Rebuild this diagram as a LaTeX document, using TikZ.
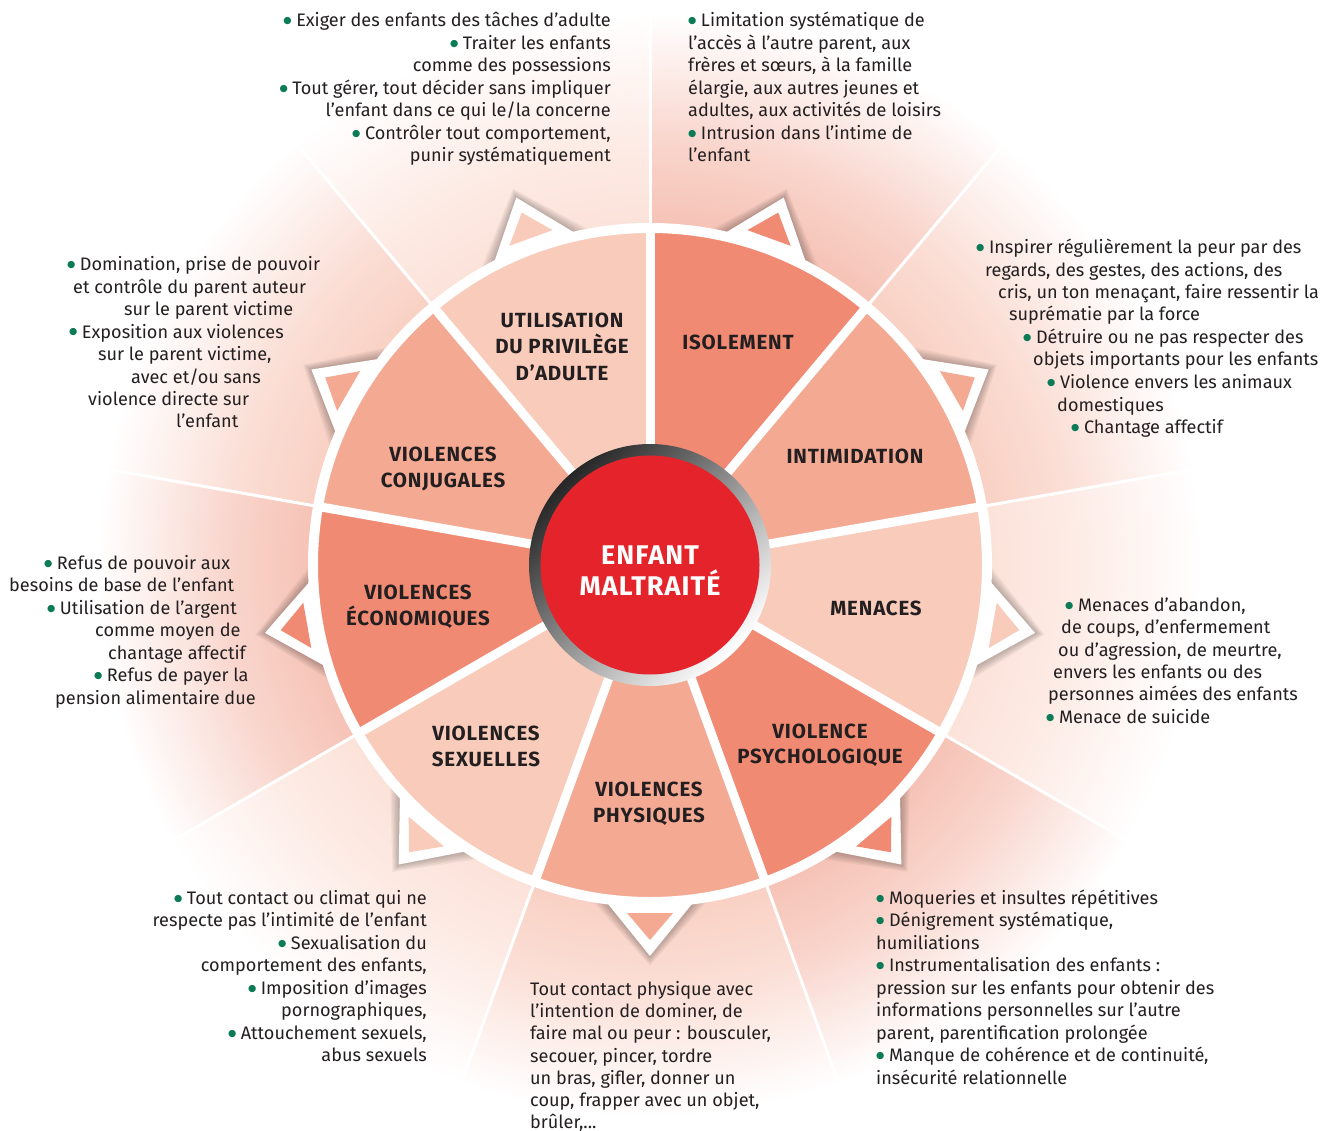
\documentclass[tikz,border=0pt]{standalone}
\usepackage{fontspec}
\setmainfont{Fira Sans}
\newfontfamily\dvs{DejaVu Sans}
\definecolor{segL}{HTML}{F9CBBA}
\definecolor{segM}{HTML}{F4A993}
\definecolor{segD}{HTML}{F08A73}
\definecolor{bgL}{HTML}{FCE2D9}
\definecolor{bgM}{HTML}{F9D0C3}
\definecolor{bgD}{HTML}{F6C2B5}
\definecolor{redc}{HTML}{E4232B}
\definecolor{bulc}{HTML}{0B7A57}
\definecolor{txtc}{HTML}{231F20}
\pgfdeclareradialshading{fadeL}{\pgfpoint{0bp}{0bp}}{color(0bp)=(bgL); color(14bp)=(bgL); color(17.5bp)=(bgL!70!white); color(23bp)=(white); color(50bp)=(white)}
\pgfdeclareradialshading{fadeM}{\pgfpoint{0bp}{0bp}}{color(0bp)=(bgM); color(14bp)=(bgM); color(17.5bp)=(bgM!70!white); color(23bp)=(white); color(50bp)=(white)}
\pgfdeclareradialshading{fadeD}{\pgfpoint{0bp}{0bp}}{color(0bp)=(bgD); color(14bp)=(bgD); color(17.5bp)=(bgD!70!white); color(23bp)=(white); color(50bp)=(white)}
\newcommand\gb{{\color{bulc}\raisebox{3pt}{\dvs\fontsize{9.5}{10}\selectfont ●}}\hspace{4.5pt}}
\newcommand\TL[5]{\node[tline,anchor=base #1] (#2) at (#3,{-(#4+6)}) {#5};}
\newcommand\LB[4]{\node[lab] (#1) at (#2,{-(#3+7)}) {#4};}
\tikzset{
  tline/.style={font=\fontsize{18.1}{21}\selectfont, text=txtc, inner sep=0pt, text height=13pt, text depth=4pt},
  lab/.style={font=\bfseries\fontsize{20.5}{24}\selectfont\addfontfeatures{LetterSpace=4}, text=txtc, inner sep=0pt, anchor=base},
  ctr/.style={font=\bfseries\fontsize{27}{30}\selectfont\addfontfeatures{LetterSpace=4}, text=white, inner sep=0pt, anchor=base},
  ray/.style={white, line width=3pt},
  divider/.style={white, line width=9pt},
}
\begin{document}
\begin{tikzpicture}[x=1pt,y=1pt]
\useasboundingbox (0,0) rectangle (1338,-1131);
\fill[white] (0,0) rectangle (1338,-1131);
\coordinate (C) at (650,-565);
\begin{scope}[shift={(C)}]
  % background sectors
  \foreach \s/\e/\f in {90/130/fadeL, 50/90/fadeD, 10/50/fadeM, -30/10/fadeL, -70/-30/fadeD, -110/-70/fadeM, -150/-110/fadeL, 170/210/fadeD, 130/170/fadeM}{
    \begin{scope}
      \clip (0,0) -- (\s:900) arc (\s:\e:900) -- cycle;
      \shade[shading=\f] (0,0) circle (600);
    \end{scope}
  }
  % rays
  \foreach \a in {90,50,10,-30,-70,-110,-150,170,130}
    \draw[ray] (0,0) -- (\a:760);
  % triangles: shadow and white outline
  \foreach \a in {110,70,30,-10,-50,-90,-130,190,150}{
    \begin{scope}[rotate=\a]
      \foreach \k in {1,...,6}
        \fill[black, opacity=0.045] ({391+\k*1.6},0) -- (334,{46+\k*2.2}) -- (334,{-46-\k*2.2}) -- cycle;
      \fill[white] (391,0) -- (334,46) -- (334,-46) -- cycle;
    \end{scope}
  }
  % segments
  \foreach \s/\e/\c in {90/130/segL, 50/90/segD, 10/50/segM, -30/10/segL, -70/-30/segD, -110/-70/segM, -150/-110/segL, 170/210/segD, 130/170/segM}
    \fill[\c] (0,0) -- (\s:340) arc (\s:\e:340) -- cycle;
  \foreach \a in {90,50,10,-30,-70,-110,-150,170,130}
    \draw[divider] (0,0) -- (\a:337);
  \draw[white, line width=10pt] (0,0) circle (337);
  % inner coloured triangles
  \foreach \a/\c in {110/segL,70/segD,30/segM,-10/segL,-50/segD,-90/segM,-130/segL,190/segD,150/segM}{
    \begin{scope}[rotate=\a]
      \fill[\c] (375,0) -- (348,23) -- (348,-23) -- cycle;
    \end{scope}
  }
  % centre
  \shade[top color=black!85, bottom color=white, shading angle=45] (0,0) circle (121);
  \fill[redc] (0,0) circle (109.5);
\end{scope}

% centre text
\node[ctr] (c1) at (650,{-(555+9.5)}) {ENFANT};
\node[ctr] (c2) at (650,{-(586+9.5)}) {MALTRAITÉ};

% wheel labels
\LB{u1}{562}{321}{UTILISATION}
\LB{u2}{562}{347}{DU PRIVILÈGE}
\LB{u3}{562}{373}{D’ADULTE}
\LB{i1}{738}{343}{ISOLEMENT}
\LB{n1}{855}{456}{INTIMIDATION}
\LB{m1}{876}{608}{MENACES}
\LB{p1}{820}{731}{VIOLENCE}
\LB{p2}{820}{756}{PSYCHOLOGIQUE}
\LB{f1}{649}{789}{VIOLENCES}
\LB{f2}{649}{815}{PHYSIQUES}
\LB{s1}{486}{733}{VIOLENCES}
\LB{s2}{486}{759}{SEXUELLES}
\LB{e1}{418}{592}{VIOLENCES}
\LB{e2}{418}{618}{ÉCONOMIQUES}
\LB{v1}{443}{454}{VIOLENCES}
\LB{v2}{443}{480}{CONJUGALES}

% block 1 : utilisation du privilege
\TL{east}{a1}{611}{21}{\gb Exiger des enfants des tâches d’adulte}
\TL{east}{a2}{611}{43.5}{\gb Traiter les enfants}
\TL{east}{a3}{611}{66}{comme des possessions}
\TL{east}{a4}{611}{88.5}{\gb Tout gérer, tout décider sans impliquer}
\TL{east}{a5}{611}{111}{l’enfant dans ce qui le/la concerne}
\TL{east}{a6}{611}{133.5}{\gb Contrôler tout comportement,}
\TL{east}{a7}{611}{156}{punir systématiquement}

% block 2 : isolement
\TL{west}{b1}{688}{21}{\gb Limitation systématique de}
\TL{west}{b2}{688}{43.5}{l’accès à l’autre parent, aux}
\TL{west}{b3}{688}{66}{frères et sœurs, à la famille}
\TL{west}{b4}{688}{88.5}{élargie, aux autres jeunes et}
\TL{west}{b5}{688}{111}{adultes, aux activités de loisirs}
\TL{west}{b6}{688}{133.5}{\gb Intrusion dans l’intime de}
\TL{west}{b7}{688}{156}{l’enfant}

% block 3 : intimidation
\TL{west}{d1}{976}{248}{\gb Inspirer régulièrement la peur par des}
\TL{west}{d2}{985}{270.5}{regards, des gestes, des actions, des}
\TL{west}{d3}{998}{293}{cris, un ton menaçant, faire ressentir la}
\TL{west}{d4}{1009}{315}{suprématie par la force}
\TL{west}{d5}{1023}{337.5}{\gb Détruire ou ne pas respecter des}
\TL{west}{d6}{1033}{360}{objets importants pour les enfants}
\TL{west}{d7}{1047}{382.5}{\gb Violence envers les animaux}
\TL{west}{d8}{1057}{405}{domestiques}
\TL{west}{d9}{1071}{427}{\gb Chantage affectif}

% block 4 : violences conjugales
\TL{west}{g1}{67}{265}{\gb Domination, prise de pouvoir}
\TL{west}{g2}{73}{287.5}{et contrôle du parent auteur}
\TL{west}{g3}{124}{310}{sur le parent victime}
\TL{west}{g4}{69}{332}{\gb Exposition aux violences}
\TL{west}{g5}{98}{354.5}{sur le parent victime,}
\TL{west}{g6}{131}{377}{avec et/ou sans}
\TL{west}{g7}{88}{399.5}{violence directe sur}
\TL{west}{g8}{176}{421.5}{l’enfant}

% block 5 : violences economiques
\TL{west}{h1}{44}{563}{\gb Refus de pouvoir aux}
\TL{west}{h2}{9}{585.5}{besoins de base de l’enfant}
\TL{west}{h3}{47}{608}{\gb Utilisation de l’argent}
\TL{west}{h4}{95}{630.5}{comme moyen de}
\TL{west}{h5}{108}{653}{chantage affectif}
\TL{west}{h6}{94}{675.5}{\gb Refus de payer la}
\TL{west}{h7}{55}{698}{pension alimentaire due}

% block 6 : menaces
\TL{west}{k1}{1065}{605}{\gb Menaces d’abandon,}
\TL{west}{k2}{1061}{627.5}{de coups, d’enfermement}
\TL{west}{k3}{1058}{650}{ou d’agression, de meurtre,}
\TL{west}{k4}{1053}{672}{envers les enfants ou des}
\TL{west}{k5}{1048}{694.5}{personnes aimées des enfants}
\TL{west}{k6}{1046}{717}{\gb Menace de suicide}

% block 7 : violences sexuelles
\TL{east}{x1}{427}{898}{\gb Tout contact ou climat qui ne}
\TL{east}{x2}{427}{920.5}{respecte pas l’intimité de l’enfant}
\TL{east}{x3}{427}{943}{\gb Sexualisation du}
\TL{east}{x4}{427}{965.5}{comportement des enfants,}
\TL{east}{x5}{427}{988}{\gb Imposition d’images}
\TL{east}{x6}{427}{1010.5}{pornographiques,}
\TL{east}{x7}{427}{1033}{\gb Attouchement sexuels,}
\TL{east}{x8}{427}{1055.5}{abus sexuels}

% block 8 : violences physiques
\TL{west}{y1}{530}{989}{Tout contact physique avec}
\TL{west}{y2}{530}{1011}{l’intention de dominer, de}
\TL{west}{y3}{530}{1033.5}{faire mal ou peur : bousculer,}
\TL{west}{y4}{530}{1056}{secouer, pincer, tordre}
\TL{west}{y5}{530}{1078}{un bras, gifler, donner un}
\TL{west}{y6}{530}{1100.5}{coup, frapper avec un objet,}
\TL{west}{y7}{530}{1122}{brûler,...}

% block 9 : violence psychologique
\TL{west}{z1}{876}{898}{\gb Moqueries et insultes répétitives}
\TL{west}{z2}{876}{920.5}{\gb Dénigrement systématique,}
\TL{west}{z3}{876}{943}{humiliations}
\TL{west}{z4}{876}{965.5}{\gb Instrumentalisation des enfants :}
\TL{west}{z5}{876}{988}{pression sur les enfants pour obtenir des}
\TL{west}{z6}{876}{1010.5}{informations personnelles sur l’autre}
\TL{west}{z7}{876}{1033}{parent, parentification prolongée}
\TL{west}{z8}{876}{1055.5}{\gb Manque de cohérence et de continuité,}
\TL{west}{z9}{876}{1078}{insécurité relationnelle}
\end{tikzpicture}
\end{document}
